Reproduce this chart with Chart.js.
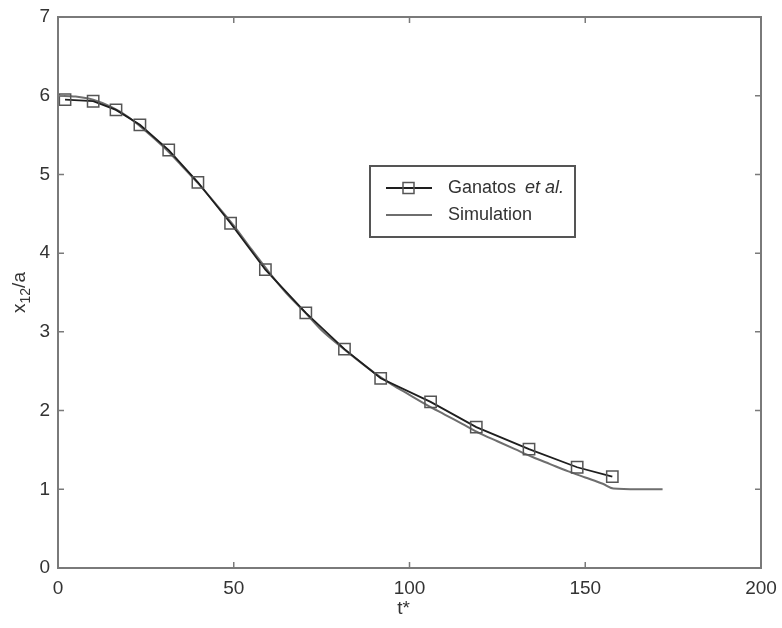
<!DOCTYPE html>
<html>
<head>
<meta charset="utf-8">
<script src="https://cdn.jsdelivr.net/npm/chart.js@4"></script>
<style>
html,body{margin:0;padding:0;background:#fff;}
#wrap{width:782px;height:628px;}
</style>
</head>
<body>
<div id="wrap"><canvas id="c" width="782" height="628"></canvas></div>
<script>
// ---- data ----
const ganatosT = [2, 10, 16.5, 23.3, 31.5, 39.8, 49.1, 59, 70.5, 81.5, 91.8, 106, 119, 134, 147.7, 157.7];
const ganatosY = [5.95, 5.93, 5.82, 5.63, 5.31, 4.90, 4.38, 3.79, 3.24, 2.78, 2.41, 2.11, 1.79, 1.51, 1.28, 1.16];
const simT = [0, 5, 10, 15, 20, 25, 30, 35, 40, 45, 50, 55, 60, 65, 70, 75, 80, 85, 90, 95, 100, 105, 110, 115, 120, 125, 130, 135, 140, 145, 150, 155, 158, 165, 172];
const simY = [6.00, 5.99, 5.95, 5.86, 5.73, 5.55, 5.35, 5.12, 4.88, 4.62, 4.35, 4.05, 3.76, 3.49, 3.26, 3.02, 2.83, 2.65, 2.48, 2.33, 2.20, 2.07, 1.95, 1.83, 1.71, 1.61, 1.51, 1.41, 1.32, 1.23, 1.15, 1.07, 1.01, 1.00, 1.00];
const xTicks = [0, 50, 100, 150, 200];
const yTicks = [0, 1, 2, 3, 4, 5, 6, 7];
const seriesNames = ['Ganatos ', 'Simulation'];

const FONT = 'Liberation Sans, Arial, sans-serif';
const AXIS = '#7a7a7a';

const framePlugin = {
  id: 'frame',
  afterDraw(chart) {
    const {ctx, chartArea: a, scales: {x, y}} = chart;
    ctx.save();
    ctx.strokeStyle = AXIS;
    ctx.lineWidth = 2;
    ctx.strokeRect(a.left, a.top, a.right - a.left, a.bottom - a.top);
    ctx.lineWidth = 1.5;
    const L = 6;
    ctx.beginPath();
    xTicks.forEach(v => {
      const px = x.getPixelForValue(v);
      ctx.moveTo(px, a.bottom); ctx.lineTo(px, a.bottom - L);
      ctx.moveTo(px, a.top); ctx.lineTo(px, a.top + L);
    });
    yTicks.forEach(v => {
      const py = y.getPixelForValue(v);
      ctx.moveTo(a.left, py); ctx.lineTo(a.left + L, py);
      ctx.moveTo(a.right, py); ctx.lineTo(a.right - L, py);
    });
    ctx.stroke();

    // axis titles
    ctx.fillStyle = '#333';
    ctx.textBaseline = 'middle';
    ctx.textAlign = 'center';
    ctx.font = '19px ' + FONT;
    ctx.fillText('t*', (a.left + a.right) / 2 - 6, 609);

    // y title x12/a rotated
    ctx.save();
    ctx.translate(20, (a.top + a.bottom) / 2);
    ctx.rotate(-Math.PI / 2);
    ctx.textAlign = 'left';
    ctx.font = '19px ' + FONT;
    const w1 = ctx.measureText('x').width;
    ctx.font = '14px ' + FONT;
    const w2 = ctx.measureText('12').width;
    ctx.font = '19px ' + FONT;
    const w3 = ctx.measureText('/a').width;
    let sx = -(w1 + w2 + w3) / 2;
    ctx.fillText('x', sx, 0);
    ctx.font = '14px ' + FONT;
    ctx.fillText('12', sx + w1, 6);
    ctx.font = '19px ' + FONT;
    ctx.fillText('/a', sx + w1 + w2, 0);
    ctx.restore();

    // legend
    const bx = 370, by = 166, bw = 205, bh = 71;
    ctx.fillStyle = '#fff';
    ctx.fillRect(bx, by, bw, bh);
    ctx.strokeStyle = '#555';
    ctx.lineWidth = 2;
    ctx.strokeRect(bx, by, bw, bh);
    const ds = chart.data.datasets;
    const rows = [188, 215];
    rows.forEach((ry, i) => {
      const d = ds[i];
      ctx.strokeStyle = d.borderColor;
      ctx.lineWidth = d.borderWidth;
      ctx.beginPath();
      ctx.moveTo(386, ry); ctx.lineTo(432, ry);
      ctx.stroke();
      if (i === 0) {
        ctx.strokeStyle = d.pointBorderColor;
        ctx.lineWidth = d.pointBorderWidth;
        ctx.strokeRect(403, ry - 5.5, 11, 11);
      }
    });
    ctx.fillStyle = '#333';
    ctx.textAlign = 'left';
    ctx.textBaseline = 'middle';
    ctx.font = '18px ' + FONT;
    ctx.fillText(seriesNames[0], 448, rows[0]);
    const gw = ctx.measureText(seriesNames[0]).width;
    ctx.font = 'italic 18px ' + FONT;
    ctx.fillText('et al.', 448 + gw + 4, rows[0]);
    ctx.font = '18px ' + FONT;
    ctx.fillText(seriesNames[1], 448, rows[1]);
    ctx.restore();
  }
};

new Chart(document.getElementById('c'), {
  type: 'line',
  data: {
    datasets: [
      {
        label: 'Ganatos et al.',
        data: ganatosT.map((t, i) => ({x: t, y: ganatosY[i]})),
        borderColor: '#1e1e1e',
        borderWidth: 1.8,
        pointStyle: 'rect',
        pointRadius: 8,
        pointBorderColor: '#555',
        pointBorderWidth: 1.5,
        pointBackgroundColor: 'rgba(0,0,0,0)',
        tension: 0,
        fill: false
      },
      {
        label: 'Simulation',
        data: simT.map((t, i) => ({x: t, y: simY[i]})),
        borderColor: '#6e6e6e',
        borderWidth: 2,
        pointRadius: 0,
        cubicInterpolationMode: 'monotone',
        fill: false
      }
    ]
  },
  options: {
    responsive: false,
    animation: false,
    devicePixelRatio: 1,
    layout: {padding: {left: 0, top: 17, right: 21, bottom: 0}},
    plugins: {legend: {display: false}, tooltip: {enabled: false}},
    scales: {
      x: {
        type: 'linear', min: 0, max: 200,
        afterFit(s) { s.height = 60; s.paddingLeft = 0; s.paddingRight = 0; },
        afterBuildTicks(s) { s.ticks = xTicks.map(v => ({value: v})); },
        grid: {display: false, drawTicks: false},
        border: {display: false},
        ticks: {color: '#333', font: {family: FONT, size: 19}, padding: 9, maxRotation: 0}
      },
      y: {
        type: 'linear', min: 0, max: 7,
        afterFit(s) { s.width = 58; s.paddingTop = 0; s.paddingBottom = 0; },
        afterBuildTicks(s) { s.ticks = yTicks.map(v => ({value: v})); },
        grid: {display: false, drawTicks: false},
        border: {display: false},
        ticks: {color: '#333', font: {family: FONT, size: 19}, padding: 8}
      }
    }
  },
  plugins: [framePlugin]
});
</script>
</body>
</html>
